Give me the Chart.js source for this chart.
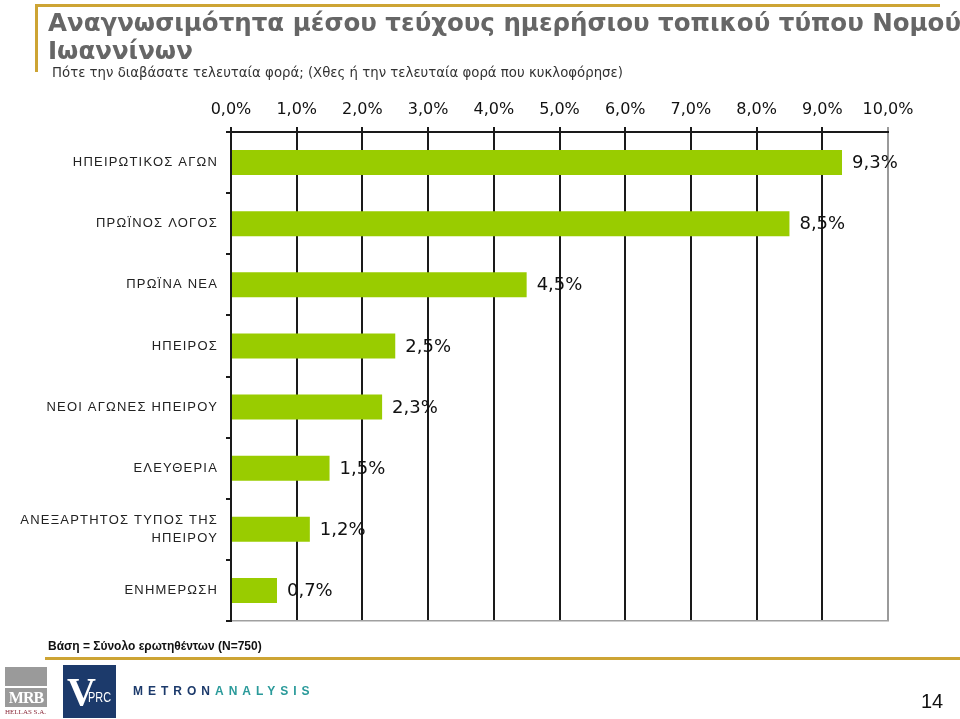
<!DOCTYPE html>
<html>
<head>
<meta charset="utf-8">
<script src="https://cdn.jsdelivr.net/npm/chart.js@4/dist/chart.umd.min.js"></script>
<style>
  html, body { margin:0; padding:0; width:960px; height:719px; overflow:hidden; background:#fff; }
  #wrap { position:absolute; left:0; top:0; width:960px; height:719px; overflow:hidden; }
  canvas { position:absolute; left:0; top:0; }
  .t { position:absolute; white-space:nowrap; font-style:normal; }
  #title { left:48px; top:9px; font-family:"DejaVu Sans", sans-serif; font-weight:700; font-style:normal; font-size:24.5px; line-height:28px; color:#666; }
  #sub { left:52px; top:65px; font-family:"DejaVu Sans", sans-serif; font-size:13.3px; line-height:16px; color:#333; }
  #base { left:48px; top:639px; font:bold 12px/14px "Liberation Sans", Arial, sans-serif; color:#111; }
  #page { left:921px; top:690px; font:20px/22px "Liberation Sans Narrow", "Liberation Sans", sans-serif; color:#111; }
  .gold { position:absolute; background:#cda434; }
  #mrb1 { position:absolute; left:5px; top:667px; width:42px; height:19px; background:#9a9a9a; }
  #mrb2 { position:absolute; left:5px; top:688px; width:42px; height:19px; background:#9a9a9a; color:#fff; font:bold 16px/19px "Liberation Serif", serif; text-align:center; letter-spacing:-1px; }
  #mrb3 { left:5px; top:708px; font:7px/9px "Liberation Serif", serif; color:#8a2a3a; }
  #vprc { position:absolute; left:63px; top:665px; width:53px; height:53px; background:#1c3a6b; color:#fff; overflow:hidden; }
  #vprc .v { position:absolute; left:4px; top:6px; font:bold 40px/42px "Liberation Serif", serif; }
  #vprc .p { position:absolute; left:25px; top:24px; font:14px/16px "Liberation Sans", sans-serif; transform:scaleX(0.78); transform-origin:0 0; }
  #metron { left:133px; top:684px; font:bold 12px/14px "Liberation Sans", sans-serif; letter-spacing:5px; }
  #metron .a { color:#1c3a6b; } #metron .b { color:#2a9a9a; }
</style>
</head>
<body>
<div id="wrap">
  <canvas id="c" width="960" height="719"></canvas>
  <div class="gold" style="left:35px;top:4px;width:905px;height:3px;"></div>
  <div class="gold" style="left:35px;top:4px;width:3px;height:68px;"></div>
  <div class="gold" style="left:45px;top:657px;width:915px;height:3px;"></div>
  <div class="t" id="title">Αναγνωσιμότητα μέσου τεύχους ημερήσιου τοπικού τύπου Νομού<br>Ιωαννίνων</div>
  <div class="t" id="sub">Πότε την διαβάσατε τελευταία φορά; (Χθες ή την τελευταία φορά που κυκλοφόρησε)</div>
  <div class="t" id="base">Βάση = Σύνολο ερωτηθέντων (N=750)</div>
  <div id="mrb1"></div>
  <div id="mrb2">MRB</div>
  <div class="t" id="mrb3">HELLAS S.A.</div>
  <div id="vprc"><span class="v">V</span><span class="p">PRC</span></div>
  <div class="t" id="metron"><span class="a">METRON</span><span class="b">ANALYSIS</span></div>
  <div class="t" id="page">14</div>
</div>
<script>
// ---- data ----
const categories = [
  "ΗΠΕΙΡΩΤΙΚΟΣ ΑΓΩΝ",
  "ΠΡΩΪΝΟΣ ΛΟΓΟΣ",
  "ΠΡΩΪΝΑ ΝΕΑ",
  "ΗΠΕΙΡΟΣ",
  "ΝΕΟΙ ΑΓΩΝΕΣ ΗΠΕΙΡΟΥ",
  "ΕΛΕΥΘΕΡΙΑ",
  ["ΑΝΕΞΑΡΤΗΤΟΣ ΤΥΠΟΣ ΤΗΣ", "ΗΠΕΙΡΟΥ"],
  "ΕΝΗΜΕΡΩΣΗ"
];
const readership = [9.3, 8.5, 4.5, 2.5, 2.3, 1.5, 1.2, 0.7];
const xTickLabels = ["0,0%","1,0%","2,0%","3,0%","4,0%","5,0%","6,0%","7,0%","8,0%","9,0%","10,0%"];
const valueLabels = ["9,3%","8,5%","4,5%","2,5%","2,3%","1,5%","1,2%","0,7%"];

const spacingPlugin = {
  id: 'spacing',
  afterDatasetsDraw(chart) {
    const ctx = chart.ctx;
    const meta = chart.getDatasetMeta(0);
    ctx.save();
    ctx.font = '18px "DejaVu Sans", sans-serif';
    ctx.fillStyle = '#111';
    ctx.textAlign = 'left';
    ctx.textBaseline = 'middle';
    meta.data.forEach((bar, i) => {
      ctx.fillText(valueLabels[i], bar.x + 10, bar.y + 1);
    });
    ctx.restore();
    ctx.letterSpacing = '1.2px';
  },
  afterDraw(chart) {
    chart.ctx.letterSpacing = '0px';
  }
};

new Chart(document.getElementById('c'), {
  type: 'bar',
  data: {
    labels: categories,
    datasets: [{
      data: readership,
      backgroundColor: '#99cc00',
      borderWidth: 0,
      barPercentage: 0.41,
      categoryPercentage: 1.0
    }]
  },
  plugins: [spacingPlugin],
  options: {
    indexAxis: 'y',
    responsive: false,
    animation: false,
    events: [],
    layout: { padding: { left: 0, top: 0, right: 72, bottom: 98 } },
    plugins: { legend: { display: false }, tooltip: { enabled: false }, title: { display: false } },
    scales: {
      x: {
        type: 'linear',
        position: 'top',
        min: 0, max: 10,
        afterFit(s) { s.height = 132; },
        ticks: {
          stepSize: 1,
          padding: 8,
          color: '#111',
          font: { family: '"DejaVu Sans", sans-serif', size: 16 },
          callback: (v, i) => xTickLabels[i],
          maxRotation: 0
        },
        grid: {
          color: (c) => c.index === 10 ? '#9a9a9a' : '#1a1a1a',
          lineWidth: 2,
          tickLength: 5,
          drawOnChartArea: true
        },
        border: { display: true, color: '#1a1a1a', width: 2 }
      },
      x2: {
        type: 'linear',
        position: 'bottom',
        min: 0, max: 10,
        afterFit(s) { s.height = 0; },
        ticks: { display: false },
        grid: { display: false },
        border: { display: true, color: '#a0a0a0', width: 1.5 }
      },
      y: {
        type: 'category',
        position: 'left',
        afterFit(s) { s.width = 231; },
        ticks: {
          z: 1,
          padding: 8,
          color: '#222',
          crossAlign: 'near',
          font: { family: '"Liberation Sans", Arial, sans-serif', size: 13, lineHeight: 1.35 }
        },
        grid: {
          offset: true,
          drawOnChartArea: false,
          tickLength: 5,
          color: '#1a1a1a',
          lineWidth: 2
        },
        border: { display: true, color: '#1a1a1a', width: 2 }
      }
    }
  }
});
</script>
</body>
</html>
